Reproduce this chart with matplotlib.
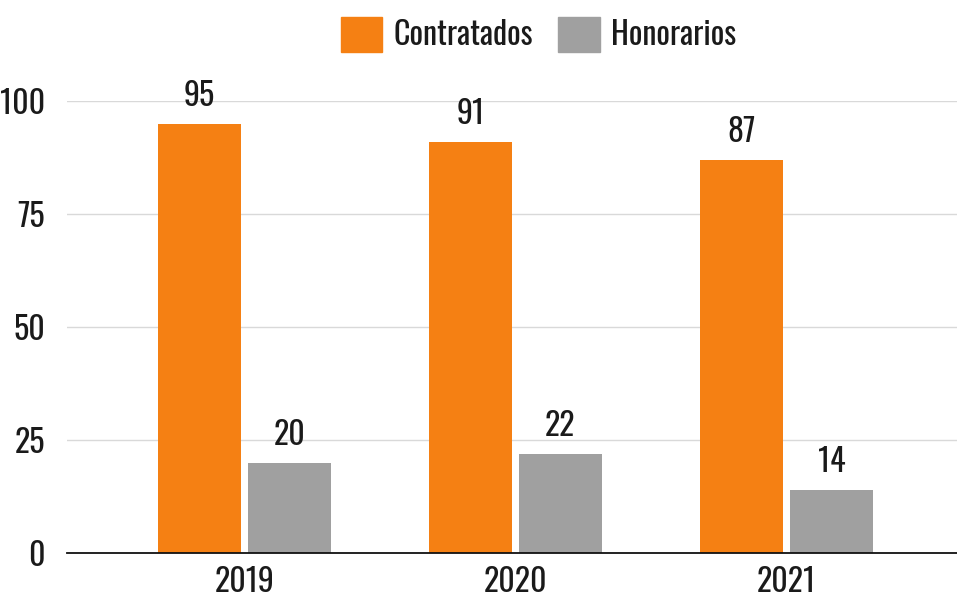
import matplotlib
matplotlib.use("Agg")
import matplotlib.pyplot as plt
import numpy as np
from matplotlib import font_manager
from matplotlib.patches import Patch

# Dados
anos = ["2019", "2020", "2021"]
contratados = [95, 91, 87]
honorarios = [20, 22, 14]
y_ticks = [0, 25, 50, 75, 100]

# Fonte condensada: Oswald no peso mais leve disponível
pesos = sorted({int(f.weight) for f in font_manager.fontManager.ttflist
                if f.name == "Oswald" and str(f.weight).isdigit()})
if pesos and pesos[0] <= 300:
    fonte, peso, tam = "Oswald", pesos[0], 24
elif pesos:
    fonte, peso, tam = "Oswald", pesos[0], 23
else:
    fonte, peso, tam = "Barlow Condensed", 300, 27
plt.rcParams["font.family"] = [fonte, "DejaVu Sans"]
plt.rcParams["font.weight"] = peso

cor_laranja = "#f58013"
cor_cinza = "#a0a0a0"
cor_texto = "#1a1a1a"

fig = plt.figure(figsize=(9.57, 6), dpi=100)
ax = fig.add_axes([67 / 957, 47 / 600, 890 / 957, 452 / 600])

x = np.arange(len(anos))
larg = 0.306
gap = 0.026
b1 = ax.bar(x - (larg + gap) / 2, contratados, larg, color=cor_laranja, zorder=3)
b2 = ax.bar(x + (larg + gap) / 2, honorarios, larg, color=cor_cinza, zorder=3)

for barras in (b1, b2):
    for b in barras:
        ax.text(b.get_x() + b.get_width() / 2, b.get_height() + 2.6, f"{b.get_height():.0f}",
                ha="center", va="bottom", fontsize=tam, color=cor_texto, clip_on=False)

ax.set_xlim(-0.655, 2.63)
ax.set_ylim(0, 100)
ax.set_yticks(y_ticks)
ax.set_xticks(x)
ax.set_xticklabels(anos)
ax.tick_params(axis="both", length=0, labelsize=tam, colors=cor_texto)
ax.tick_params(axis="y", pad=16)
ax.tick_params(axis="x", pad=9)

ax.grid(axis="y", color="#d9d9d9", linewidth=1, zorder=0)
for s in ["top", "right", "left"]:
    ax.spines[s].set_visible(False)
ax.spines["bottom"].set_color("#111111")
ax.spines["bottom"].set_linewidth(1.3)
ax.spines["bottom"].set_zorder(4)

handles = [Patch(color=cor_laranja, label="Contratados"), Patch(color=cor_cinza, label="Honorarios")]
fig.legend(handles=handles, loc="center", bbox_to_anchor=(0.5627, 0.9425), ncol=2,
           frameon=False, fontsize=tam, handlelength=1.3, handleheight=1.3,
           handletextpad=0.35, columnspacing=0.8, borderaxespad=0, borderpad=0,
           labelcolor=cor_texto)

fig.savefig("out.png", dpi=100)
